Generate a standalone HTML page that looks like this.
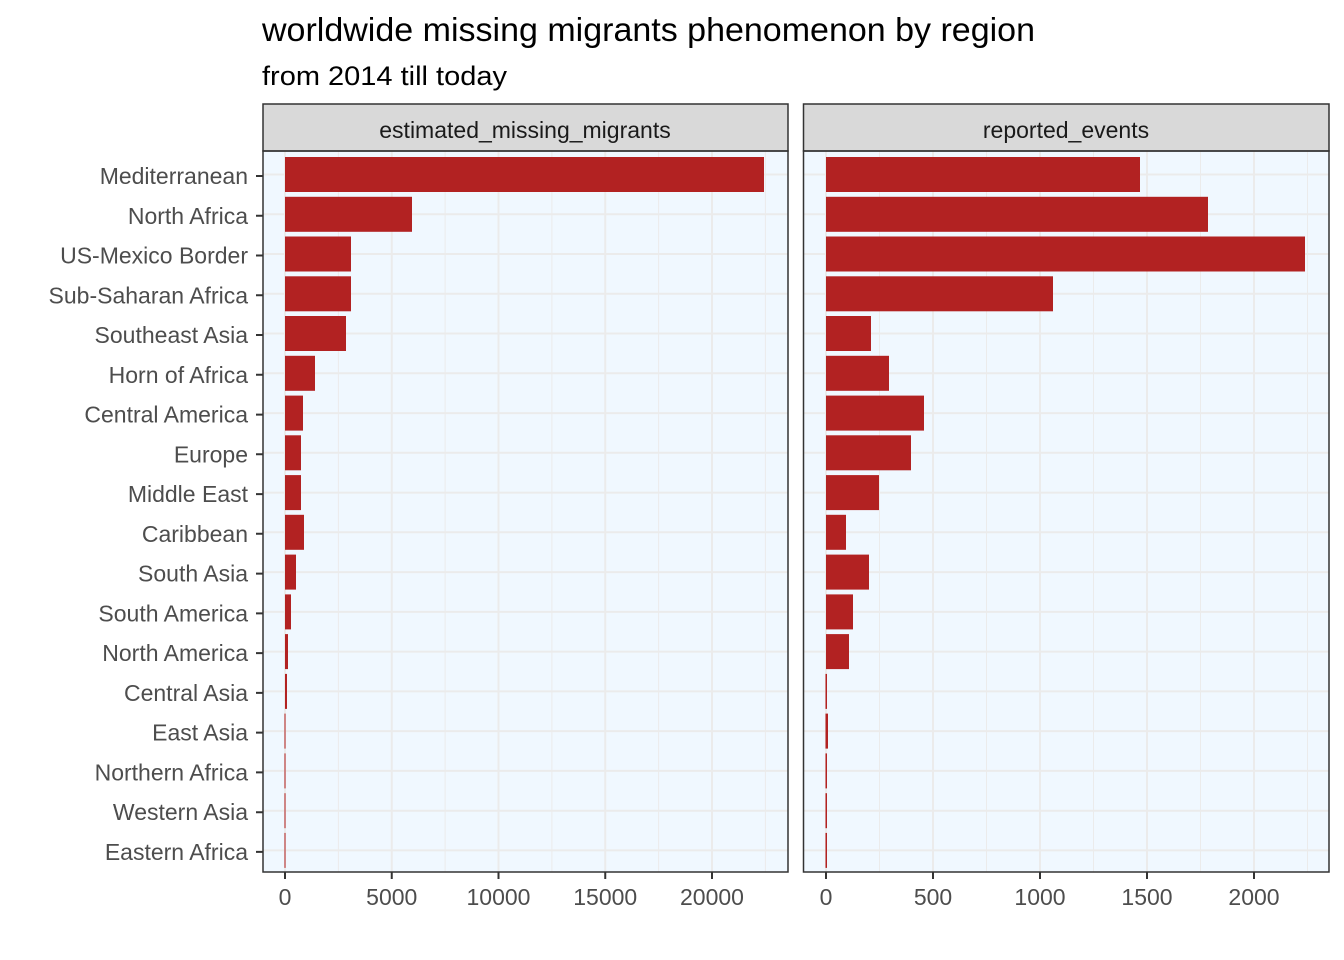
<!DOCTYPE html>
<html><head><meta charset="utf-8"><style>body{margin:0;background:#fff}svg{display:block}text{font-family:"Liberation Sans",sans-serif}</style></head>
<body>
<svg width="1344" height="960" xmlns="http://www.w3.org/2000/svg">
<text x="262" y="41" font-size="33" fill="#000" textLength="773" lengthAdjust="spacingAndGlyphs">worldwide missing migrants phenomenon by region</text>
<text x="262" y="85" font-size="27" fill="#000" textLength="245" lengthAdjust="spacingAndGlyphs">from 2014 till today</text>
<rect x="263" y="151" width="525" height="721" fill="#f0f8ff"/>
<g stroke="#ebebeb" stroke-width="1">
<line x1="338.4" y1="151" x2="338.4" y2="872"/><line x1="445.1" y1="151" x2="445.1" y2="872"/><line x1="551.9" y1="151" x2="551.9" y2="872"/><line x1="658.6" y1="151" x2="658.6" y2="872"/><line x1="765.4" y1="151" x2="765.4" y2="872"/>
</g>
<g stroke="#ebebeb" stroke-width="2">
<line x1="285" y1="151" x2="285" y2="872"/><line x1="391.75" y1="151" x2="391.75" y2="872"/><line x1="498.5" y1="151" x2="498.5" y2="872"/><line x1="605.25" y1="151" x2="605.25" y2="872"/><line x1="712" y1="151" x2="712" y2="872"/>
</g>
<rect x="803" y="151" width="526" height="721" fill="#f0f8ff"/>
<g stroke="#ebebeb" stroke-width="1">
<line x1="879.5" y1="151" x2="879.5" y2="872"/><line x1="986.5" y1="151" x2="986.5" y2="872"/><line x1="1093.5" y1="151" x2="1093.5" y2="872"/><line x1="1200.5" y1="151" x2="1200.5" y2="872"/><line x1="1307.5" y1="151" x2="1307.5" y2="872"/>
</g>
<g stroke="#ebebeb" stroke-width="2">
<line x1="826" y1="151" x2="826" y2="872"/><line x1="933" y1="151" x2="933" y2="872"/><line x1="1040" y1="151" x2="1040" y2="872"/><line x1="1147" y1="151" x2="1147" y2="872"/><line x1="1254" y1="151" x2="1254" y2="872"/>
</g>
<g stroke="#ebebeb" stroke-width="2">
<path d="M263 174.5H788M263 214.3H788M263 254H788M263 293.8H788M263 333.5H788M263 373.3H788M263 413.1H788M263 452.8H788M263 492.6H788M263 532.3H788M263 572.1H788M263 611.9H788M263 651.6H788M263 691.4H788M263 731.1H788M263 770.9H788M263 810.7H788M263 850.4H788"/>
<path d="M803 174.5H1329M803 214.3H1329M803 254H1329M803 293.8H1329M803 333.5H1329M803 373.3H1329M803 413.1H1329M803 452.8H1329M803 492.6H1329M803 532.3H1329M803 572.1H1329M803 611.9H1329M803 651.6H1329M803 691.4H1329M803 731.1H1329M803 770.9H1329M803 810.7H1329M803 850.4H1329"/>
</g>
<g fill="#b22222">
<rect x="285" y="157" width="479" height="35"/>
<rect x="285" y="196.8" width="127" height="35"/>
<rect x="285" y="236.5" width="66" height="35"/>
<rect x="285" y="276.3" width="66" height="35"/>
<rect x="285" y="316" width="61" height="35"/>
<rect x="285" y="355.8" width="30" height="35"/>
<rect x="285" y="395.6" width="18" height="35"/>
<rect x="285" y="435.3" width="16" height="35"/>
<rect x="285" y="475.1" width="16" height="35"/>
<rect x="285" y="514.8" width="19" height="35"/>
<rect x="285" y="554.6" width="11" height="35"/>
<rect x="285" y="594.4" width="6" height="35"/>
<rect x="285" y="634.1" width="3" height="35"/>
<rect x="285" y="673.9" width="2" height="35"/>
<rect x="284.5" y="713.6" width="1" height="35"/>
<rect x="284.5" y="753.4" width="1" height="35"/>
<rect x="284.5" y="793.2" width="1" height="35"/>
<rect x="284.5" y="832.9" width="1" height="35"/>
<rect x="826" y="157" width="314" height="35"/>
<rect x="826" y="196.8" width="382" height="35"/>
<rect x="826" y="236.5" width="479" height="35"/>
<rect x="826" y="276.3" width="227" height="35"/>
<rect x="826" y="316" width="45" height="35"/>
<rect x="826" y="355.8" width="63" height="35"/>
<rect x="826" y="395.6" width="98" height="35"/>
<rect x="826" y="435.3" width="85" height="35"/>
<rect x="826" y="475.1" width="53" height="35"/>
<rect x="826" y="514.8" width="20" height="35"/>
<rect x="826" y="554.6" width="43" height="35"/>
<rect x="826" y="594.4" width="27" height="35"/>
<rect x="826" y="634.1" width="23" height="35"/>
<rect x="825.5" y="673.9" width="1.5" height="35"/>
<rect x="825.5" y="713.6" width="2.5" height="35"/>
<rect x="825.5" y="753.4" width="1.5" height="35"/>
<rect x="825.5" y="793.2" width="1.5" height="35"/>
<rect x="825.5" y="832.9" width="1.5" height="35"/>
</g>
<rect x="263" y="104" width="525" height="47" fill="#d9d9d9" stroke="#333" stroke-width="1.5"/>
<rect x="803.5" y="104" width="525.5" height="47" fill="#d9d9d9" stroke="#333" stroke-width="1.5"/>
<text x="525" y="138" font-size="23" fill="#1a1a1a" text-anchor="middle">estimated_missing_migrants</text>
<text x="1066" y="138" font-size="23" fill="#1a1a1a" text-anchor="middle">reported_events</text>
<rect x="263" y="151" width="525" height="721" fill="none" stroke="#333" stroke-width="1.5"/>
<rect x="803.5" y="151" width="525.5" height="721" fill="none" stroke="#333" stroke-width="1.5"/>
<g stroke="#333" stroke-width="2">
<path d="M256 176H263M256 215.8H263M256 255.5H263M256 295.3H263M256 335H263M256 374.8H263M256 414.6H263M256 454.3H263M256 494.1H263M256 533.8H263M256 573.6H263M256 613.4H263M256 653.1H263M256 692.9H263M256 732.6H263M256 772.4H263M256 812.2H263M256 851.9H263"/>
<path d="M285 872V879M391.75 872V879M498.5 872V879M605.25 872V879M712 872V879M826 872V879M933 872V879M1040 872V879M1147 872V879M1254 872V879"/>
</g>
<g font-size="23" fill="#4d4d4d" text-anchor="end">
<text x="248" y="184">Mediterranean</text>
<text x="248" y="223.8">North Africa</text>
<text x="248" y="263.5">US-Mexico Border</text>
<text x="248" y="303.3">Sub-Saharan Africa</text>
<text x="248" y="343">Southeast Asia</text>
<text x="248" y="382.8">Horn of Africa</text>
<text x="248" y="422.6">Central America</text>
<text x="248" y="462.3">Europe</text>
<text x="248" y="502.1">Middle East</text>
<text x="248" y="541.8">Caribbean</text>
<text x="248" y="581.6">South Asia</text>
<text x="248" y="621.4">South America</text>
<text x="248" y="661.1">North America</text>
<text x="248" y="700.9">Central Asia</text>
<text x="248" y="740.6">East Asia</text>
<text x="248" y="780.4">Northern Africa</text>
<text x="248" y="820.2">Western Asia</text>
<text x="248" y="859.9">Eastern Africa</text>
</g>
<g font-size="23" fill="#4d4d4d" text-anchor="middle">
<text x="285" y="905">0</text><text x="391.75" y="905">5000</text><text x="498.5" y="905">10000</text><text x="605.25" y="905">15000</text><text x="712" y="905">20000</text>
<text x="826" y="905">0</text><text x="933" y="905">500</text><text x="1040" y="905">1000</text><text x="1147" y="905">1500</text><text x="1254" y="905">2000</text>
</g>
</svg>
</body></html>
